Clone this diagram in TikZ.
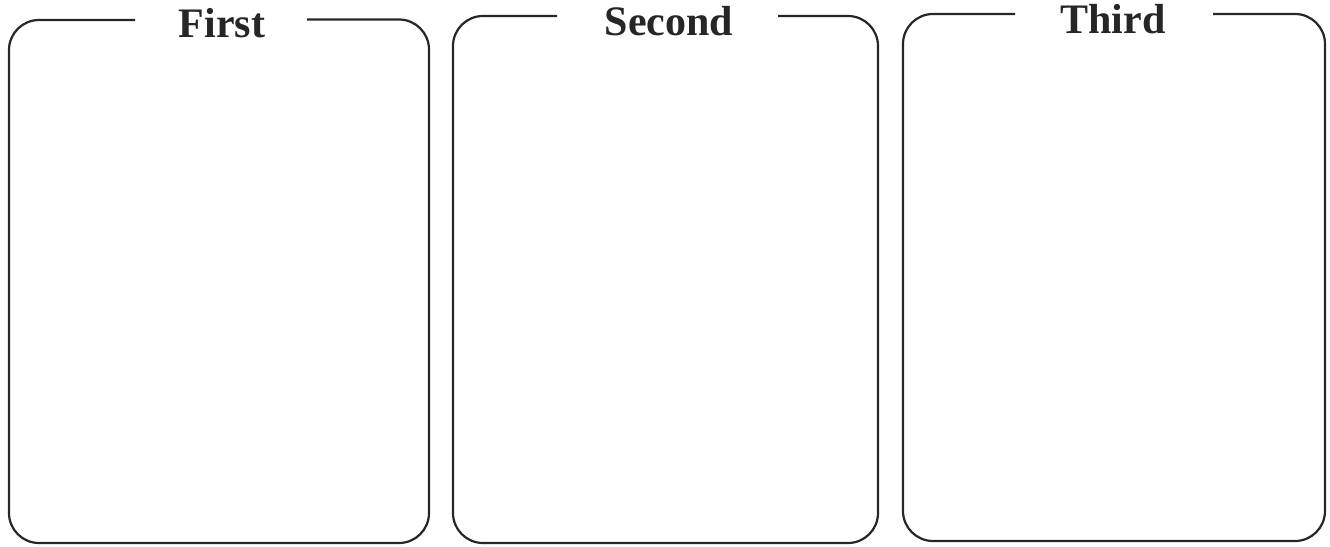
\documentclass[tikz,border=0pt]{standalone}
\usepackage{fontspec}
\setmainfont{Liberation Serif}
\begin{document}
\begin{tikzpicture}[x=1pt,y=-1pt,
  frame/.style={draw=black!85,line width=2.2pt,rounded corners=30pt,line join=round},
  paneltitle/.style={anchor=base,inner sep=0pt,font=\fontsize{42}{48}\selectfont\bfseries,text=black!85}]
\useasboundingbox (0,0) rectangle (1330,546);
% titles
\node[paneltitle] (t1) at (222,37) {First};
\node[paneltitle] (t2) at (669,35) {Second};
\node[paneltitle] (t3) at (1113,33) {Third};
% frame gap ends
\coordinate (a1) at (135,20); \coordinate (b1) at (307,19.5);
\coordinate (a2) at (557,16); \coordinate (b2) at (778,16);
\coordinate (a3) at (1015,14); \coordinate (b3) at (1213,14);
% frames
\draw[frame] (a1) -- (9,20) -- (9,543) -- (429,543) -- (429,19.5) -- (b1);
\draw[frame] (a2) -- (453,16) -- (453,543) -- (878,543) -- (878,16) -- (b2);
\draw[frame] (a3) -- (903,14) -- (903,541) -- (1325,541) -- (1325,14) -- (b3);
\end{tikzpicture}
\end{document}
